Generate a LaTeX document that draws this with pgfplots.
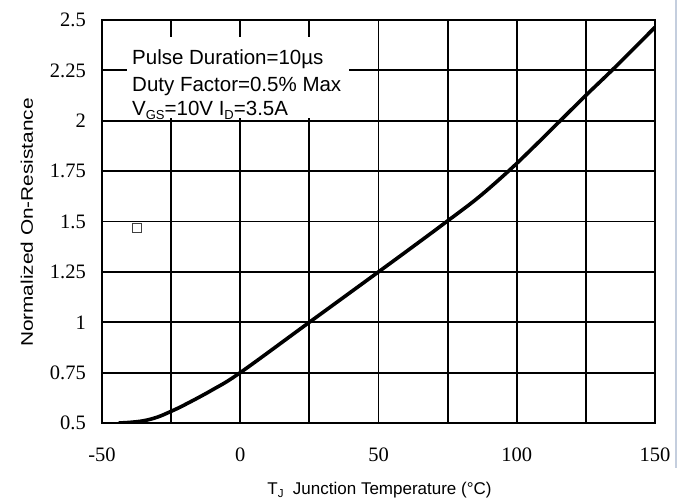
\documentclass[border=0pt]{standalone}
\usepackage{pgfplots}
\pgfplotsset{compat=1.18}
\usepackage{graphicx}
\usepackage{fontspec}
\setmainfont{Liberation Sans}
\newfontfamily\seriffont{Liberation Serif}

% lowered small-size index used in V_GS, I_D and T_J
\newcommand{\sub}[2][11.5bp]{\raisebox{-3.8bp}{\fontsize{#1}{#1}\selectfont #2}}

\begin{document}
\begin{tikzpicture}[x=1bp,y=1bp]
\useasboundingbox (-102bp,-80bp) rectangle (586bp,423bp);
\begin{axis}[
  at={(0,0)}, anchor=south west,
  scale only axis, width=553bp, height=403bp,
  xmin=-50, xmax=150, ymin=0.5, ymax=2.5,
  xtick={-50,-25,0,25,50,75,100,125,150},
  xticklabels={-50,,0,,50,,100,,150},
  ytick={0.5,0.75,1,1.25,1.5,1.75,2,2.25,2.5},
  yticklabels={0.5,0.75,1,1.25,1.5,1.75,2,2.25,2.5},
  grid=major,
  major grid style={black, line width=1.8bp},
  axis line style={black, line width=1.9bp},
  major tick length=0pt,
  tick style={draw=none},
  xticklabel style={font=\fontsize{20.5bp}{22bp}\seriffont, inner sep=0pt, anchor=north, yshift=-25bp},
  yticklabel style={font=\fontsize{20.5bp}{22bp}\seriffont, inner sep=0pt, anchor=east, xshift=-16bp},
]
% measurement conditions box
\fill[white] (axis cs:-41,2.015) rectangle (axis cs:39.5,2.418);
\node[anchor=base west, inner sep=0pt, font=\fontsize{20.5bp}{23bp}\selectfont]
  at (axis cs:-39.15,2.2767) {Pulse Duration=10µs};
\node[anchor=base west, inner sep=0pt, font=\fontsize{20.5bp}{23bp}\selectfont]
  at (axis cs:-39.15,2.1427) {Duty Factor=0.5\% Max};
\node[anchor=base west, inner sep=0pt, font=\fontsize{20.5bp}{23bp}\selectfont]
  at (axis cs:-39.15,2.0236) {V\sub[13bp]{GS}=10V I\sub[13bp]{D}=3.5A};

% normalized on-resistance vs junction temperature
\addplot[black, line width=3.6bp, smooth, tension=0.6] coordinates {
  (-44,0.5) (-40,0.503) (-35,0.511) (-30,0.529) (-25,0.558) (-20,0.591)
  (-10,0.665) (0,0.75) (25,1.0) (50,1.25) (65,1.401) (75,1.503) (86,1.618)
  (97,1.75) (106,1.868) (115.5,1.997) (125,2.126) (135,2.258) (150,2.464)
};

\addplot[only marks, mark=square*, mark size=4.5bp,
  mark options={draw=black!75, line width=1.2bp, fill=white}]
  coordinates {(-37.3,1.469)};
\end{axis}

\draw[color={rgb,255:red,196;green,206;blue,222}, line width=1.4bp]
  (574bp,423bp) -- (574bp,-45bp);

\node[rotate=90, anchor=base, inner sep=0pt, font=\fontsize{16.8bp}{18bp}\selectfont]
  at (-69bp,200.5bp) {\scalebox{1.24}[1]{Normalized On-Resistance}};
\node[anchor=base, inner sep=0pt, font=\fontsize{17bp}{19bp}\selectfont]
  at (277.5bp,-71bp) {T\sub{J}\ \ Junction Temperature (°C)};
\end{tikzpicture}
\end{document}
